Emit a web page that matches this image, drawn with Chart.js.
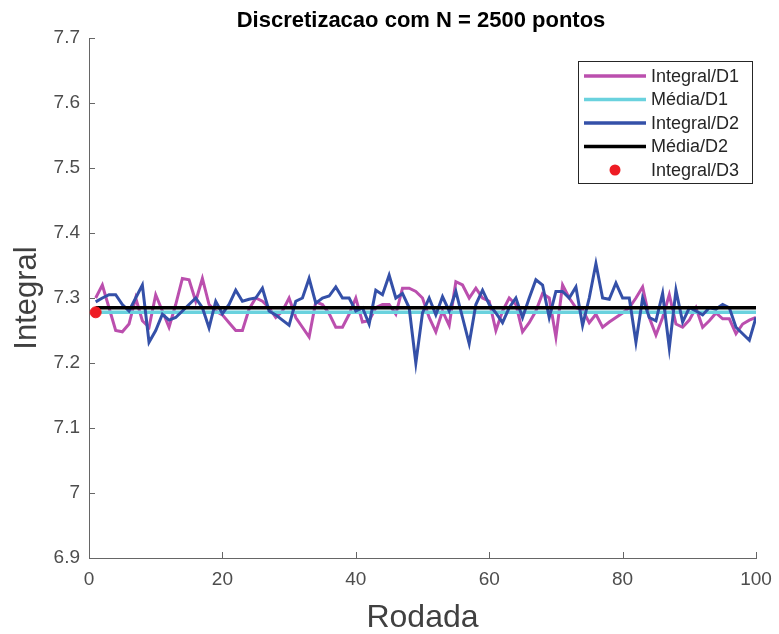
<!DOCTYPE html>
<html>
<head>
<meta charset="utf-8">
<script src="https://cdn.jsdelivr.net/npm/chart.js@4.4.0/dist/chart.umd.min.js"></script>
<style>
  html, body { margin: 0; padding: 0; background: #fff; }
  #wrap { width: 779px; height: 634px; }
</style>
</head>
<body>
<div id="wrap"><canvas id="myChart" width="779" height="634"></canvas></div>
<script>
'use strict';

var rodadas = [];
for (var i = 1; i <= 100; i++) rodadas.push(i);

var integralD1 = [
  7.300, 7.320, 7.285, 7.250, 7.248, 7.260, 7.300, 7.265, 7.255, 7.305,
  7.280, 7.255, 7.290, 7.330, 7.328, 7.295, 7.330, 7.290, 7.280, 7.274,
  7.262, 7.250, 7.250, 7.283, 7.300, 7.295, 7.285, 7.270, 7.280, 7.300,
  7.270, 7.255, 7.240, 7.294, 7.290, 7.276, 7.255, 7.255, 7.275, 7.300,
  7.263, 7.265, 7.285, 7.290, 7.290, 7.275, 7.315, 7.315, 7.310, 7.300,
  7.270, 7.248, 7.280, 7.258, 7.325, 7.320, 7.300, 7.315, 7.300, 7.295,
  7.250, 7.280, 7.300, 7.290, 7.248, 7.262, 7.280, 7.307, 7.300, 7.240,
  7.320, 7.300, 7.285, 7.282, 7.262, 7.275, 7.255, 7.263, 7.270, 7.277,
  7.285, 7.300, 7.317, 7.270, 7.243, 7.270, 7.305, 7.260, 7.255, 7.266,
  7.285, 7.255, 7.265, 7.277, 7.268, 7.268, 7.245, 7.260, 7.266, 7.270
];

var integralD2 = [
  7.294, 7.300, 7.305, 7.305, 7.290, 7.280, 7.300, 7.320, 7.232, 7.250,
  7.275, 7.266, 7.270, 7.280, 7.290, 7.300, 7.285, 7.254, 7.295, 7.276,
  7.290, 7.312, 7.295, 7.298, 7.300, 7.315, 7.280, 7.274, 7.266, 7.258,
  7.295, 7.300, 7.330, 7.292, 7.300, 7.303, 7.317, 7.300, 7.300, 7.280,
  7.285, 7.260, 7.312, 7.305, 7.335, 7.300, 7.307, 7.285, 7.200, 7.277,
  7.300, 7.274, 7.302, 7.280, 7.310, 7.270, 7.230, 7.290, 7.312, 7.290,
  7.277, 7.262, 7.285, 7.300, 7.270, 7.300, 7.328, 7.320, 7.270, 7.310,
  7.310, 7.300, 7.317, 7.258, 7.300, 7.353, 7.300, 7.298, 7.323, 7.300,
  7.300, 7.232, 7.300, 7.270, 7.265, 7.307, 7.223, 7.312, 7.263, 7.285,
  7.280, 7.274, 7.285, 7.283, 7.290, 7.285, 7.255, 7.245, 7.235, 7.270
];

var mediaD1 = 7.278;
var mediaD2 = 7.285;
var integralD3 = [{ x: 1, y: 7.278 }];

var xTicks = [0, 20, 40, 60, 80, 100];
var yTicks = [6.9, 7.0, 7.1, 7.2, 7.3, 7.4, 7.5, 7.6, 7.7];
var yTickLabels = ['6.9', '7', '7.1', '7.2', '7.3', '7.4', '7.5', '7.6', '7.7'];

var FONT = '"Liberation Sans", Arial, sans-serif';

function toPoints(vals) {
  return vals.map(function (v, k) { return { x: rodadas[k], y: v }; });
}
function flat(v) {
  return [{ x: 1, y: v }, { x: 100, y: v }];
}

// matlab-ish inward ticks, title and legend box
var matlabBits = {
  id: 'matlabBits',
  afterDraw: function (chart) {
    var c = chart.ctx, a = chart.chartArea;
    var xs = chart.scales.x, ys = chart.scales.y;
    c.save();
    c.strokeStyle = '#666';
    c.lineWidth = 1;
    c.beginPath();
    xTicks.forEach(function (t) {
      var px = Math.round(xs.getPixelForValue(t)) + 0.5;
      c.moveTo(px, a.bottom); c.lineTo(px, a.bottom - 6);
    });
    yTicks.forEach(function (t) {
      var py = Math.round(ys.getPixelForValue(t)) + 0.5;
      c.moveTo(a.left, py); c.lineTo(a.left + 6, py);
    });
    c.stroke();

    c.fillStyle = '#000';
    c.font = 'bold 22px ' + FONT;
    c.textAlign = 'center';
    c.textBaseline = 'middle';
    c.fillText('Discretizacao com N = 2500 pontos', 421, 21);

    // legend
    var lx = 578, ly = 61, lw = 174, lh = 122;
    c.fillStyle = '#fff';
    c.fillRect(lx, ly, lw, lh);
    c.strokeStyle = '#262626';
    c.lineWidth = 1;
    c.strokeRect(lx + 0.5, ly + 0.5, lw, lh);
    c.font = '18px ' + FONT;
    c.textAlign = 'left';
    chart.data.datasets.forEach(function (ds, k) {
      var y = ly + 15 + k * 23.5;
      if (ds.showLine === false) {
        c.fillStyle = ds.backgroundColor;
        c.beginPath();
        c.arc(615, y, 5.5, 0, Math.PI * 2);
        c.fill();
      } else {
        c.strokeStyle = ds.borderColor;
        c.lineWidth = 3.5;
        c.beginPath();
        c.moveTo(584, y); c.lineTo(646, y);
        c.stroke();
      }
      c.fillStyle = '#262626';
      c.fillText(ds.label, 651, y + 1);
    });
    c.restore();
  }
};

var ctx = document.getElementById('myChart').getContext('2d');
var chart = new Chart(ctx, {
  type: 'line',
  data: {
    datasets: [{
      label: 'Integral/D1',
      data: toPoints(integralD1),
      borderColor: '#bb4fae',
      borderWidth: 3,
      pointRadius: 0,
      order: 4
    },
    {
      label: 'Média/D1',
      data: flat(mediaD1),
      borderColor: '#6ad2de',
      borderWidth: 3.5,
      pointRadius: 0,
      order: 3
    },
    {
      label: 'Integral/D2',
      data: toPoints(integralD2),
      borderColor: '#3450a8',
      borderWidth: 3,
      pointRadius: 0,
      order: 2
    },
    {
      label: 'Média/D2',
      data: flat(mediaD2),
      borderColor: '#000000',
      borderWidth: 3.5,
      pointRadius: 0,
      order: 1
    },
    {
      label: 'Integral/D3',
      data: integralD3,
      showLine: false,
      backgroundColor: '#ee1c24',
      borderColor: '#ee1c24',
      pointRadius: 5.5,
      order: 0
    }]
  },
  options: {
    responsive: false,
    animation: false,
    layout: { padding: { top: 38, right: 0, left: 0, bottom: 0 } },
    plugins: {
      legend: { display: false },
      tooltip: { enabled: false }
    },
    scales: {
      x: {
        type: 'linear',
        min: 0,
        max: 100,
        afterBuildTicks: function (s) { s.ticks = xTicks.map(function (v) { return { value: v }; }); },
        afterFit: function (s) { s.height = 76; s.paddingRight = 23; s.paddingLeft = 0; },
        grid: { drawOnChartArea: false, drawTicks: false },
        border: { color: '#666', width: 1 },
        ticks: {
          padding: 10,
          color: '#4d4d4d',
          font: { size: 19, family: FONT }
        },
        title: {
          display: true,
          text: 'Rodada',
          color: '#404040',
          padding: { top: 0, bottom: 0 },
          font: { size: 32, family: FONT, lineHeight: 1 }
        }
      },
      y: {
        min: 6.9,
        max: 7.7,
        afterBuildTicks: function (s) { s.ticks = yTicks.map(function (v) { return { value: v }; }); },
        afterFit: function (s) { s.width = 89; },
        grid: { drawOnChartArea: false, drawTicks: false },
        border: { color: '#666', width: 1 },
        ticks: {
          padding: 9,
          color: '#4d4d4d',
          font: { size: 19, family: FONT },
          callback: function (v) {
            var k = yTicks.findIndex(function (t) { return Math.abs(t - v) < 1e-6; });
            return k >= 0 ? yTickLabels[k] : '';
          }
        },
        title: {
          display: true,
          text: 'Integral',
          color: '#404040',
          padding: { top: 12, bottom: 0 },
          font: { size: 31, family: FONT, lineHeight: 1 }
        }
      }
    }
  },
  plugins: [matlabBits]
});
</script>
</body>
</html>
